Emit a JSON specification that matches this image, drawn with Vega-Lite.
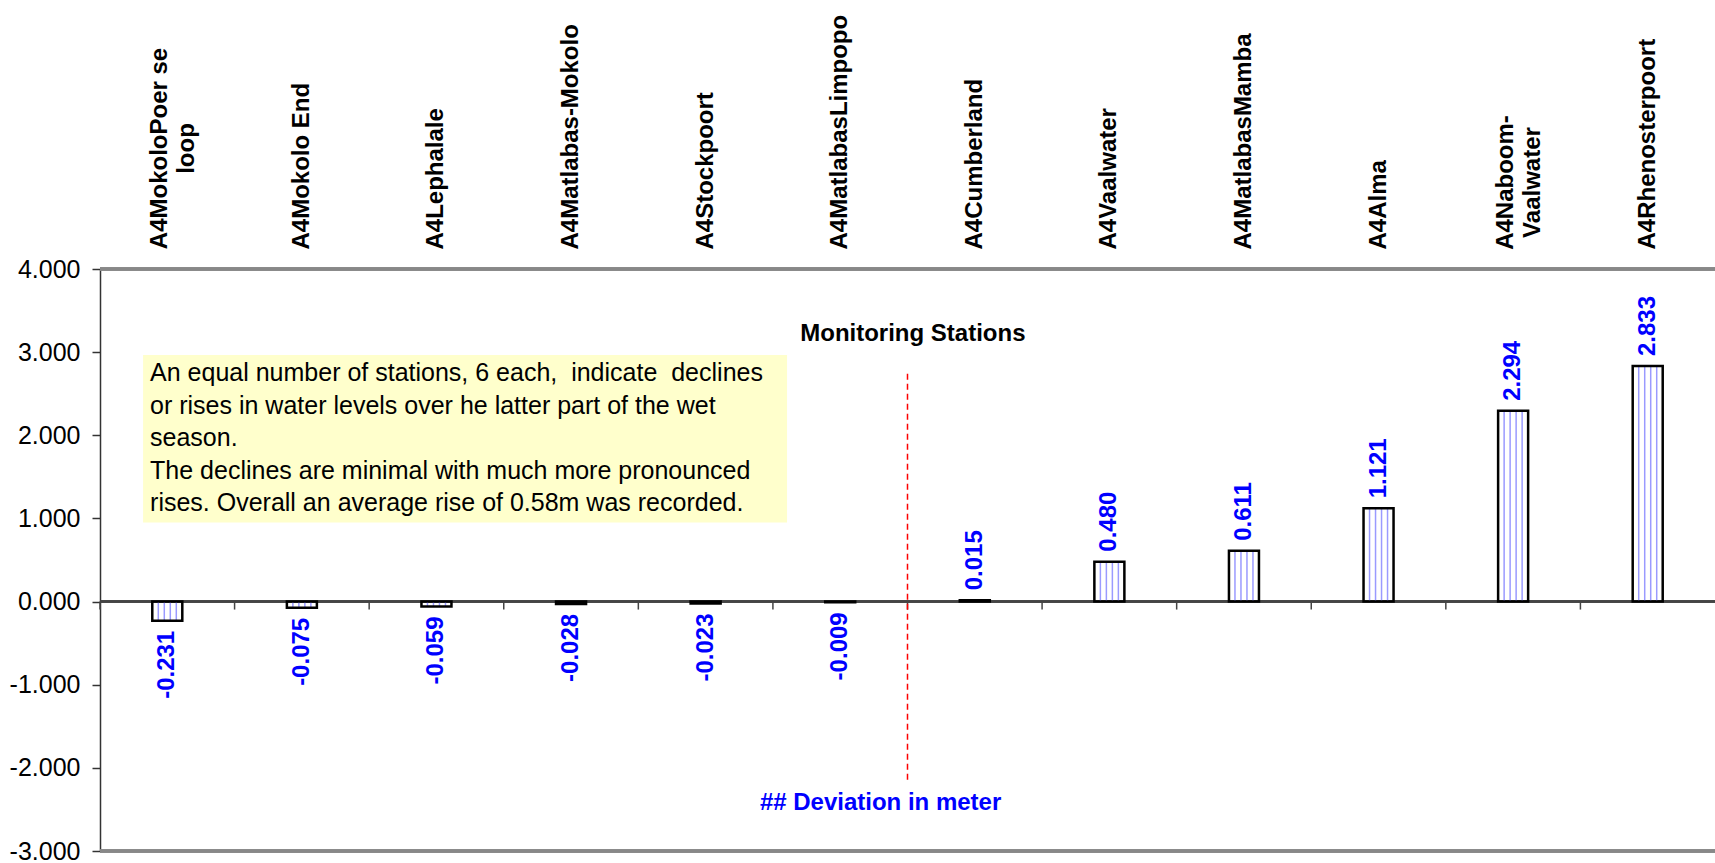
{
  "$schema": "https://vega.github.io/schema/vega-lite/v6.json",
  "autosize": {"type": "none"},
  "width": 1615,
  "height": 582,
  "padding": {"left": 100, "top": 269, "right": 0, "bottom": 12},
  "background": "white",
  "config": {
    "view": {"stroke": null},
    "font": "Liberation Sans",
    "locale": {"number": {"decimal": ".", "thousands": ",", "grouping": [3], "currency": ["$", ""], "minus": "-"}}
  },
  "layer": [
    {
      "data": {"values": [
        {"station": "A4MokoloPoer se loop", "value": -0.231},
        {"station": "A4Mokolo End", "value": -0.075},
        {"station": "A4Lephalale", "value": -0.059},
        {"station": "A4Matlabas-Mokolo", "value": -0.028},
        {"station": "A4Stockpoort", "value": -0.023},
        {"station": "A4MatlabasLimpopo", "value": -0.009},
        {"station": "A4Cumberland", "value": 0.015},
        {"station": "A4Vaalwater", "value": 0.480},
        {"station": "A4MatlabasMamba", "value": 0.611},
        {"station": "A4Alma", "value": 1.121},
        {"station": "A4Naboom-Vaalwater", "value": 2.294},
        {"station": "A4Rhenosterpoort", "value": 2.833}
      ]},
      "encoding": {
        "x": {
          "field": "station", "type": "nominal", "sort": null,
          "scale": {"paddingInner": 0, "paddingOuter": 0},
          "axis": {
            "orient": "top", "title": null, "domain": false, "ticks": false,
            "labelAngle": 270, "labelFontSize": 24, "labelFontWeight": "bold", "labelColor": "black",
            "labelFont": "Liberation Sans", "labelLimit": 400, "labelLineHeight": 27, "labelBaseline": "middle",
            "labelAlign": {"condition": {"test": "datum.value === 'A4MokoloPoer se loop' || datum.value === 'A4Naboom-Vaalwater'", "value": "center"}, "value": "left"},
            "labelPadding": {"condition": [
              {"test": "datum.value === 'A4MokoloPoer se loop'", "value": 121},
              {"test": "datum.value === 'A4Naboom-Vaalwater'", "value": 87}
            ], "value": 20},
            "labelOffset": {"condition": {"test": "datum.value === 'A4MokoloPoer se loop' || datum.value === 'A4Naboom-Vaalwater'", "value": -7}, "value": 0},
            "labelExpr": "datum.value === 'A4MokoloPoer se loop' ? ['A4MokoloPoer se', 'loop'] : datum.value === 'A4Naboom-Vaalwater' ? ['A4Naboom-', 'Vaalwater'] : datum.value",
            "labelOverlap": false
          }
        }
      },
      "layer": [
        {
          "mark": {"type": "bar", "fill": "white", "strokeWidth": 0, "width": {"band": 0.223}},
          "encoding": {
            "y": {"field": "value", "type": "quantitative",
              "scale": {"domain": [-3, 4], "nice": false, "zero": false},
              "axis": {"title": null, "values": [-3, -2, -1, 0, 1, 2, 3, 4], "format": ".3f",
                "labelFontSize": 25, "labelColor": "black", "labelFont": "Liberation Sans",
                "tickSize": 8, "tickColor": "#333333", "tickWidth": 1.5, "labelPadding": 12,
                "domainColor": "#333333", "domainWidth": 1.5, "grid": false}
            },
            "y2": {"datum": 0}
          }
        },
        {
          "mark": {"type": "rule", "color": "#888888", "strokeWidth": 2.5},
          "encoding": {"x": null, "y": {"datum": 4, "type": "quantitative", "axis": null}}
        },
        {
          "mark": {"type": "rule", "color": "#888888", "strokeWidth": 2.5},
          "encoding": {"x": null, "y": {"datum": -3, "type": "quantitative", "axis": null}}
        },
        {
          "mark": {"type": "rule", "color": "#444444", "strokeWidth": 1.5},
          "encoding": {"x": null, "y": {"datum": 0, "type": "quantitative", "axis": null}}
        },
        {
          "mark": {"type": "rule", "color": "#444444", "strokeWidth": 1.5},
          "encoding": {
            "x": {"field": "station", "type": "nominal", "sort": null, "bandPosition": 0},
            "y": {"datum": 0, "type": "quantitative", "axis": null},
            "y2": {"datum": -0.096}
          }
        },
        {
          "mark": {"type": "rule", "color": "#9a9aff", "strokeWidth": 1.5, "xOffset": -9},
          "encoding": {"y": {"field": "value", "type": "quantitative", "axis": null}, "y2": {"datum": 0}}
        },
        {
          "mark": {"type": "rule", "color": "#9a9aff", "strokeWidth": 1.5, "xOffset": -3},
          "encoding": {"y": {"field": "value", "type": "quantitative", "axis": null}, "y2": {"datum": 0}}
        },
        {
          "mark": {"type": "rule", "color": "#9a9aff", "strokeWidth": 1.5, "xOffset": 3},
          "encoding": {"y": {"field": "value", "type": "quantitative", "axis": null}, "y2": {"datum": 0}}
        },
        {
          "mark": {"type": "rule", "color": "#9a9aff", "strokeWidth": 1.5, "xOffset": 9},
          "encoding": {"y": {"field": "value", "type": "quantitative", "axis": null}, "y2": {"datum": 0}}
        },
        {
          "mark": {"type": "bar", "fillOpacity": 0, "stroke": "black", "strokeWidth": 2.5, "width": {"band": 0.223}},
          "encoding": {
            "y": {"field": "value", "type": "quantitative", "axis": null},
            "y2": {"datum": 0}
          }
        },
        {
          "transform": [{"filter": "datum.value >= 0"}],
          "mark": {"type": "text", "angle": 270, "align": "left", "baseline": "middle", "dx": 10,
            "fontSize": 24, "fontWeight": "bold", "color": "#0000ff", "font": "Liberation Sans"},
          "encoding": {
            "y": {"field": "value", "type": "quantitative", "axis": null},
            "text": {"field": "value", "type": "quantitative", "format": ".3f"}
          }
        },
        {
          "transform": [{"filter": "datum.value < 0"}],
          "mark": {"type": "text", "angle": 270, "align": "right", "baseline": "middle", "dx": -10,
            "fontSize": 24, "fontWeight": "bold", "color": "#0000ff", "font": "Liberation Sans"},
          "encoding": {
            "y": {"field": "value", "type": "quantitative", "axis": null},
            "text": {"field": "value", "type": "quantitative", "format": ".3f"}
          }
        }
      ],
      "resolve": {"axis": {"y": "independent"}}
    },
    {
      "data": {"values": [{}]},
      "layer": [
        {
          "mark": {"type": "rect", "color": "#ffffcc"},
          "encoding": {
            "x": {"datum": 0.32, "type": "quantitative", "scale": {"domain": [0, 12], "nice": false, "zero": false}, "axis": null},
            "x2": {"datum": 5.105},
            "y": {"datum": 2.965, "type": "quantitative", "axis": null},
            "y2": {"datum": 0.95}
          }
        },
        {
          "mark": {"type": "text", "align": "left", "baseline": "middle", "fontSize": 25, "lineHeight": 32.5,
            "color": "black", "font": "Liberation Sans",
            "text": ["An equal number of stations, 6 each,\u00a0 indicate\u00a0 declines", "or rises in water levels over he latter part of the wet", "season.", "The declines are minimal with much more pronounced", "rises. Overall an average rise of 0.58m was recorded."]},
          "encoding": {
            "x": {"datum": 0.372, "type": "quantitative", "axis": null},
            "y": {"datum": 2.745, "type": "quantitative", "axis": null}
          }
        },
        {
          "mark": {"type": "rule", "color": "#ff0000", "strokeWidth": 1.5, "strokeDash": [6, 4]},
          "encoding": {
            "x": {"datum": 6, "type": "quantitative", "axis": null},
            "y": {"datum": 2.74, "type": "quantitative", "axis": null},
            "y2": {"datum": -2.18}
          }
        },
        {
          "mark": {"type": "text", "align": "center", "baseline": "middle", "fontSize": 24, "fontWeight": "bold",
            "color": "black", "font": "Liberation Sans", "text": "Monitoring Stations"},
          "encoding": {
            "x": {"datum": 6.04, "type": "quantitative", "axis": null},
            "y": {"datum": 3.22, "type": "quantitative", "axis": null}
          }
        },
        {
          "mark": {"type": "text", "align": "center", "baseline": "middle", "fontSize": 24, "fontWeight": "bold",
            "color": "#0000ff", "font": "Liberation Sans", "text": "## Deviation in meter"},
          "encoding": {
            "x": {"datum": 5.80, "type": "quantitative", "axis": null},
            "y": {"datum": -2.42, "type": "quantitative", "axis": null}
          }
        }
      ]
    }
  ],
  "resolve": {"scale": {"x": "independent"}, "axis": {"y": "independent"}}
}
